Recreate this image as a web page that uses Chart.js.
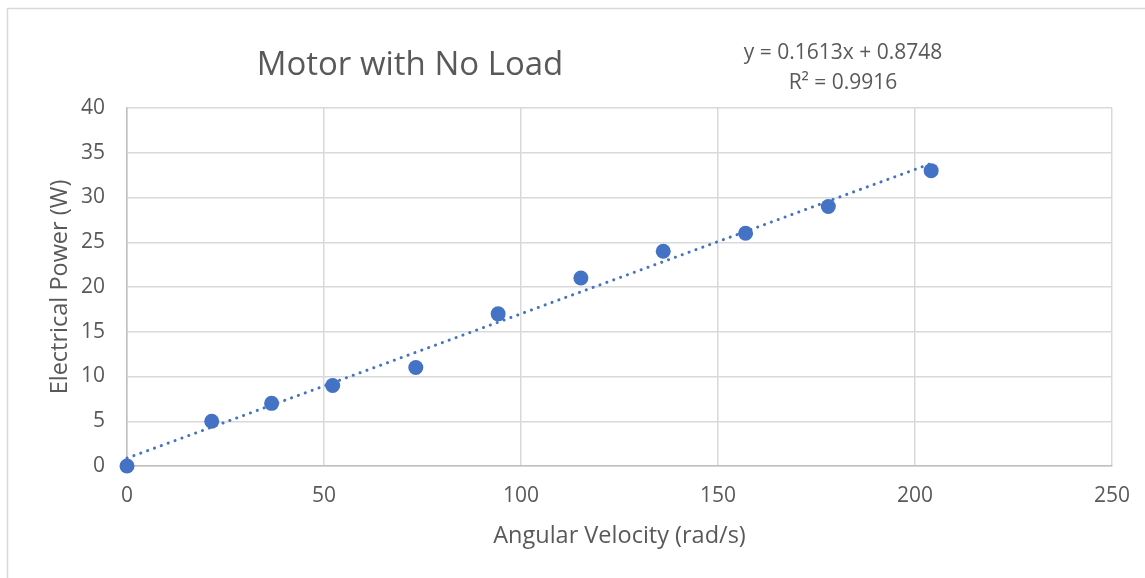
<!DOCTYPE html>
<html>
<head>
<meta charset="utf-8">
<script src="https://cdn.jsdelivr.net/npm/chart.js@4/dist/chart.umd.min.js"></script>
<style>
  html, body { margin: 0; padding: 0; background: #ffffff; }
  #wrap { position: relative; width: 1145px; height: 578px; }
</style>
</head>
<body>
<div id="wrap"><canvas id="c"></canvas></div>
<script>
// ---- data ----
const velocity = [0, 21.5, 36.7, 52.2, 73.3, 94.2, 115.2, 136.1, 157.0, 178.0, 204.1];
const power    = [0, 5, 7, 9, 11, 17, 21, 24, 26, 29, 33];
const trendX   = [0, 204.1];
const trendY   = [0.8748, 33.80];
const chartTitle = 'Motor with No Load';
const equationLines = ['y = 0.1613x + 0.8748', 'R² = 0.9916'];
const xTitle = 'Angular Velocity (rad/s)';
const yTitle = 'Electrical Power (W)';

const FONT = "'Open Sans', sans-serif";
const TEXT = '#595959';
const BLUE = '#4472C4';

const frame = {
  id: 'frame',
  beforeDraw(chart) {
    const ctx = chart.ctx;
    ctx.save();
    ctx.fillStyle = '#ffffff';
    ctx.fillRect(0, 0, chart.width, chart.height);
    ctx.strokeStyle = '#d9d9d9';
    ctx.lineWidth = 1.5;
    ctx.beginPath();
    ctx.moveTo(7.5, chart.height);
    ctx.lineTo(7.5, 8.5);
    ctx.lineTo(chart.width, 8.5);
    ctx.stroke();
    ctx.restore();
  },
  afterDraw(chart) {
    const ctx = chart.ctx;
    ctx.save();
    ctx.fillStyle = TEXT;
    ctx.textAlign = 'center';
    ctx.textBaseline = 'alphabetic';
    ctx.font = '33px ' + FONT;
    ctx.fillText(chartTitle, 410, 75);
    ctx.font = '21px ' + FONT;
    ctx.fillText(equationLines[0], 843, 59);
    ctx.fillText(equationLines[1], 843, 89);
    ctx.restore();
  }
};

const points = velocity.map((v, i) => ({ x: v, y: power[i] }));
const trend = trendX.map((v, i) => ({ x: v, y: trendY[i] }));

new Chart(document.getElementById('c'), {
  type: 'scatter',
  data: {
    datasets: [
      {
        label: 'Trendline',
        data: trend,
        showLine: true,
        borderColor: BLUE,
        borderWidth: 3,
        borderDash: [0.1, 7.2],
        borderCapStyle: 'round',
        pointRadius: 0,
        fill: false,
        clip: false,
        order: 0
      },
      {
        label: 'Power',
        data: points,
        backgroundColor: BLUE,
        borderColor: BLUE,
        borderWidth: 0,
        pointRadius: 7.5,
        clip: false,
        order: 1
      }
    ]
  },
  options: {
    responsive: true,
    maintainAspectRatio: false,
    animation: false,
    layout: { padding: { left: 42, right: 33, top: 108, bottom: 24 } },
    plugins: {
      legend: { display: false },
      tooltip: { enabled: false },
      title: { display: false }
    },
    scales: {
      x: {
        type: 'linear',
        min: 0, max: 250,
        ticks: { stepSize: 50, color: TEXT, font: { family: FONT, size: 21 }, padding: 17 },
        grid: { color: '#d9d9d9', lineWidth: 1.5, drawTicks: false },
        border: { color: '#bfbfbf', width: 1.5 },
        title: { display: true, text: xTitle, color: TEXT, font: { family: FONT, size: 23.5 } },
        afterFit(scale) { scale.height = 88; scale.paddingLeft = 0; scale.paddingRight = 0; }
      },
      y: {
        type: 'linear',
        min: 0, max: 40,
        ticks: { stepSize: 5, color: TEXT, font: { family: FONT, size: 21 }, padding: 22 },
        grid: { color: '#d9d9d9', lineWidth: 1.5, drawTicks: false },
        border: { color: '#bfbfbf', width: 1.5 },
        title: { display: true, text: yTitle, color: TEXT, font: { family: FONT, size: 23.5 } },
        afterFit(scale) { scale.width = 85; scale.paddingTop = 0; scale.paddingBottom = 0; }
      }
    }
  },
  plugins: [frame]
});
</script>
</body>
</html>
